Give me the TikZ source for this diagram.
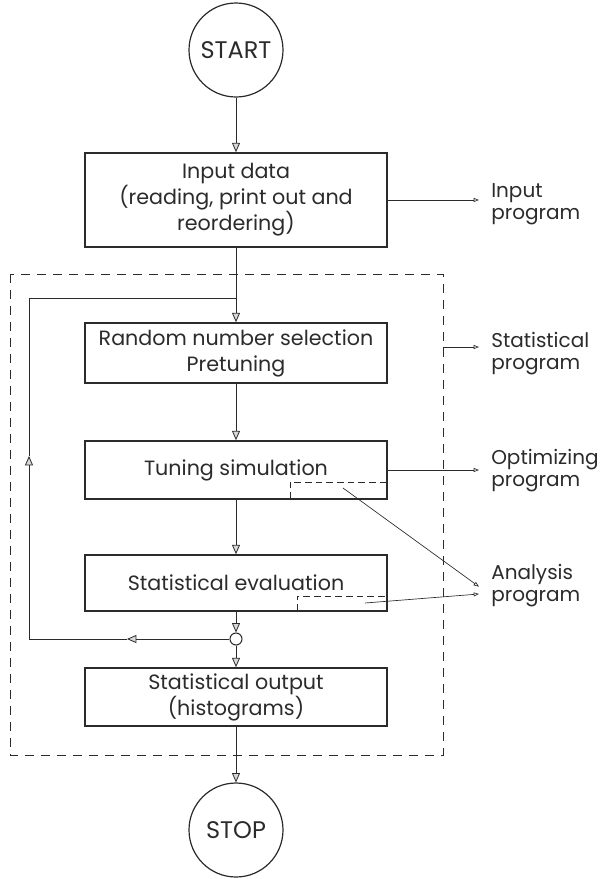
\documentclass[tikz,border=0pt]{standalone}
\usepackage{fontspec}
\setmainfont{Poppins}
\usepackage{tikz}
\usetikzlibrary{arrows.meta,positioning}
\definecolor{inkgray}{HTML}{2B2B2B}

\begin{document}
\begin{tikzpicture}[x=0.75pt, y=-0.75pt,
    block/.style={rectangle, draw=inkgray, line width=1.2pt, minimum width=226.5pt, inner sep=2pt, align=center, text=inkgray, font=\fontsize{15.5}{19.5}\selectfont},
    term/.style={circle, draw=inkgray, line width=0.9pt, minimum size=70.5pt, inner sep=0pt, text=inkgray, font=\fontsize{18}{20}\selectfont},
    joint/.style={circle, draw=inkgray, line width=0.8pt, fill=white, minimum size=9pt, inner sep=0pt},
    tag/.style={anchor=west, align=left, inner xsep=9pt, inner ysep=0pt, text=inkgray, font=\fontsize{15}{16.5}\selectfont},
    link/.style={draw=inkgray, line width=0.6pt},
    flow/.style={link, -{Triangle[open, length=7pt, width=6pt, fill=black!15]}},
    side/.style={draw=inkgray, line width=0.5pt, -{Triangle[open, length=4pt, width=3pt]}},
    frame/.style={draw=inkgray, line width=0.7pt, dash pattern=on 7pt off 5pt},
    tap/.style={draw=inkgray, line width=0.7pt, dash pattern=on 5pt off 3pt}
  ]
  \useasboundingbox (0,0) rectangle (602,879);

  % main chain
  \node[term] (start) at (236,50) {START};
  \node[block, minimum height=70.5pt] (input) at (236,200) {Input data\\(reading, print out and\\reordering)};
  \node[block, minimum height=45pt] (random) at (236,353) {Random number selection\\Pretuning};
  \node[block, minimum height=43.5pt] (tuning) at (236,470) {Tuning simulation};
  \node[block, minimum height=42pt] (eval) at (236,583) {Statistical evaluation};
  \node[joint] (junc) at (236,639) {};
  \node[block, minimum height=43.5pt] (output) at (236,697) {Statistical output\\(histograms)};
  \node[term] (stop) at (236,830) {STOP};

  % program group
  \draw[frame] (10,274) rectangle (443,755);
  \coordinate (frameE) at (443,347);

  % labels on the right
  \node[tag] (inprog) at (479,204) {Input\\program};
  \node[tag] (statprog) at (479,354) {Statistical\\program};
  \node[tag] (optprog) at (479,471) {Optimizing\\program};
  \node[tag] (anaprog) at (479,586) {Analysis\\program};

  % flow
  \draw[flow] (start) -- (input);
  \draw[flow] (input) -- (random);
  \draw[flow] (random) -- (tuning);
  \draw[flow] (tuning) -- (eval);
  \draw[flow] (eval) -- (junc);
  \draw[flow] (junc) -- (output);
  \draw[flow] (output) -- (stop);

  % repeat loop
  \coordinate (loopin) at (236,298);
  \coordinate (loopleft) at (127,639);
  \coordinate (loopbl) at (29,639);
  \coordinate (loopup) at (29,456);
  \coordinate (looptl) at (29,298);
  \draw[flow] (junc.west) -- (loopleft);
  \draw[flow] (loopleft) -- (loopbl) -- (loopup);
  \draw[link] (loopup) -- (looptl) -- (loopin);

  % analysis parts inside the boxes
  \draw[tap] (290,499) -- (290,482) -- (387,482);
  \draw[tap] (297,611) -- (297,596) -- (387,596);
  \coordinate (tunetap) at (343,488);
  \coordinate (evaltap) at (365,603);

  % links to the programs
  \draw[side] (input.east) -- (input.east -| inprog.west);
  \draw[side] (frameE) -- (frameE -| statprog.west);
  \draw[side] (tuning.east) -- (tuning.east -| optprog.west);
  \draw[side] (tunetap) -- ([yshift=-0.5pt]anaprog.west);
  \draw[side] (evaltap) -- ([yshift=-6pt]anaprog.west);
\end{tikzpicture}
\end{document}
